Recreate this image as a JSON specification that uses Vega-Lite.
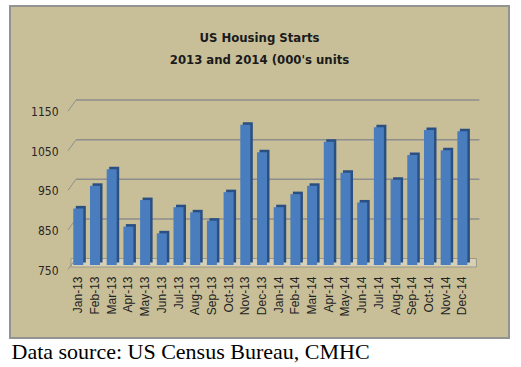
{
  "$schema": "https://vega.github.io/schema/vega-lite/v6.json",
  "width": 499,
  "height": 332,
  "autosize": {"type": "none"},
  "padding": {"left": 10, "top": 6, "right": 12, "bottom": 29},
  "background": "white",
  "title": {
    "text": ["US Housing Starts", "2013 and 2014 (000's units"],
    "orient": "top",
    "anchor": "middle",
    "frame": "group",
    "offset": -61,
    "font": "DejaVu Sans Condensed, Liberation Sans",
    "fontSize": 13,
    "fontWeight": "bold",
    "color": "#1a1a1a",
    "lineHeight": 22
  },
  "datasets": {
    "starts": [
      {"month": "Jan-13", "units": 893},
      {"month": "Feb-13", "units": 950},
      {"month": "Mar-13", "units": 992},
      {"month": "Apr-13", "units": 847},
      {"month": "May-13", "units": 914},
      {"month": "Jun-13", "units": 830},
      {"month": "Jul-13", "units": 896},
      {"month": "Aug-13", "units": 883},
      {"month": "Sep-13", "units": 862},
      {"month": "Oct-13", "units": 934},
      {"month": "Nov-13", "units": 1104},
      {"month": "Dec-13", "units": 1035},
      {"month": "Jan-14", "units": 896},
      {"month": "Feb-14", "units": 929},
      {"month": "Mar-14", "units": 950},
      {"month": "Apr-14", "units": 1061},
      {"month": "May-14", "units": 983},
      {"month": "Jun-14", "units": 908},
      {"month": "Jul-14", "units": 1098},
      {"month": "Aug-14", "units": 965},
      {"month": "Sep-14", "units": 1028},
      {"month": "Oct-14", "units": 1091},
      {"month": "Nov-14", "units": 1040},
      {"month": "Dec-14", "units": 1088}
    ],
    "grid": [{"v": 750}, {"v": 850}, {"v": 950}, {"v": 1050}, {"v": 1150}]
  },
  "data": {"name": "starts"},
  "layer": [
    {
      "data": {"name": "grid"},
      "transform": [{"filter": "datum.v == 750"}],
      "mark": {"type": "rect", "fill": "#D6D0B6", "stroke": "#9B9888", "strokeWidth": 1, "xOffset": -2.3, "x2Offset": 9, "yOffset": -6.5, "y2Offset": 2},
      "encoding": {
        "x": {"datum": "Jan-13", "bandPosition": 0, "type": "nominal"},
        "x2": {"datum": "Dec-14", "bandPosition": 1},
        "y": {"field": "v", "type": "quantitative"},
        "y2": {"field": "v"}
      }
    },
    {
      "data": {"name": "grid"},
      "transform": [{"filter": "datum.v > 750"}],
      "mark": {"type": "rule", "color": "#8E8E8E", "strokeWidth": 1.5, "xOffset": 2.7, "x2Offset": 12, "yOffset": -6.5},
      "encoding": {
        "x": {"datum": "Jan-13", "bandPosition": 0, "type": "nominal"},
        "x2": {"datum": "Dec-14", "bandPosition": 1},
        "y": {"field": "v", "type": "quantitative"}
      }
    },
    {
      "data": {"name": "grid"},
      "mark": {"type": "rule", "color": "#8E8E8E", "strokeWidth": 1, "xOffset": -5.3, "x2Offset": 2.7, "yOffset": 4.5, "y2Offset": -6.5},
      "encoding": {
        "x": {"datum": "Jan-13", "bandPosition": 0, "type": "nominal"},
        "x2": {"datum": "Jan-13", "bandPosition": 0},
        "y": {"field": "v", "type": "quantitative"},
        "y2": {"field": "v"}
      }
    },
    {
      "mark": {"type": "bar", "color": "#2A4F82", "xOffset": 2.5, "yOffset": -2.5, "y2Offset": -2.5},
      "encoding": {
        "x": {"field": "month", "type": "nominal"},
        "y": {"field": "units", "type": "quantitative"},
        "y2": {"datum": 750}
      }
    },
    {
      "mark": {"type": "bar", "color": "#4A7DBE"},
      "encoding": {
        "x": {
          "field": "month",
          "type": "nominal",
          "scale": {
            "domain": ["Jan-13","Feb-13","Mar-13","Apr-13","May-13","Jun-13","Jul-13","Aug-13","Sep-13","Oct-13","Nov-13","Dec-13","Jan-14","Feb-14","Mar-14","Apr-14","May-14","Jun-14","Jul-14","Aug-14","Sep-14","Oct-14","Nov-14","Dec-14"],
            "range": [63.3, 457.4],
            "paddingInner": 0.4,
            "paddingOuter": 0
          },
          "axis": {
            "orient": "bottom",
            "offset": -68,
            "domain": false,
            "ticks": false,
            "grid": false,
            "labelAngle": 270,
            "labelPadding": 6,
            "labelFont": "Liberation Sans",
            "labelFontSize": 12,
            "labelColor": "#222222",
            "title": "Data source: US Census Bureau, CMHC",
            "titleX": 1,
            "titleY": 88,
            "titleAlign": "left",
            "titleAnchor": "start",
            "titleBaseline": "alphabetic",
            "titleFont": "Liberation Serif",
            "titleFontSize": 22,
            "titleFontWeight": "normal",
            "titleColor": "#000000"
          }
        },
        "y": {
          "field": "units",
          "type": "quantitative",
          "scale": {"domain": [565.7, 1404], "nice": false, "zero": false},
          "axis": {
            "orient": "left",
            "offset": -48,
            "values": [750, 850, 950, 1050, 1150],
            "format": "d",
            "domain": false,
            "ticks": false,
            "grid": false,
            "labelPadding": 0,
            "labelOffset": 5,
            "labelFont": "DejaVu Sans Condensed, Liberation Sans",
            "labelFontSize": 12,
            "labelColor": "#262626",
            "title": null
          }
        },
        "y2": {"datum": 750}
      }
    }
  ],
  "config": {
    "view": {"fill": "#C8BF99", "stroke": "#939393", "strokeWidth": 2}
  }
}
